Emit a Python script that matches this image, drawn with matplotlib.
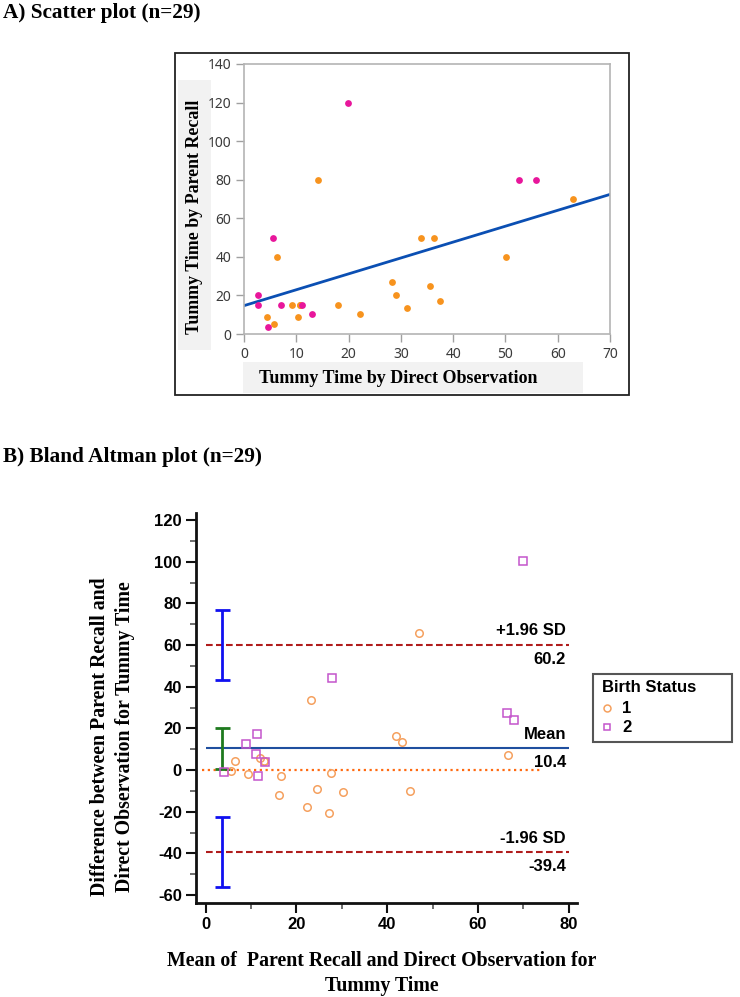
import matplotlib
matplotlib.use('Agg')
import matplotlib.pyplot as plt
from matplotlib.patches import Rectangle
from matplotlib.lines import Line2D
from matplotlib.ticker import MultipleLocator
import numpy as np

plt.rcParams['axes.unicode_minus'] = False

W, H = 740, 997

# ---------------- Panel A data (scatter) ----------------
# Birth status 1 (orange)
obs_g1 = [14.1, 6.25, 4.46, 5.8, 9.1, 10.7, 10.7, 10.26, 18.0, 22.1, 28.4, 29.1,
          31.2, 33.8, 36.3, 35.6, 37.4, 50.2, 63.0]
rec_g1 = [80, 40, 8.6, 5.4, 15, 15, 15, 8.6, 15, 10.2, 27, 20,
          13.6, 50, 50, 25, 17, 40, 70.2]
# Birth status 2 (magenta)
obs_g2 = [19.8, 2.68, 2.68, 5.6, 4.6, 7.07, 11.15, 13.0, 52.6, 55.8]
rec_g2 = [120, 20, 15, 50, 3.5, 15, 15, 10.2, 80, 80]
fit_intercept = 14.7
fit_slope = 0.824
scatter_xticks = [0, 10, 20, 30, 40, 50, 60, 70]
scatter_yticks = [0, 20, 40, 60, 80, 100, 120, 140]

# ---------------- Panel B data (Bland-Altman) ----------------
ba_lines = [60.2, 10.4, -39.4]
ba_line_names = ["+1.96 SD", "Mean", "-1.96 SD"]
ci_upper = [43.4, 76.8]
ci_mean = [0.6, 20.0]
ci_lower = [-56.2, -22.7]
ci_x = 3.6
ba_xticks = [0, 20, 40, 60, 80]
ba_yticks = [-60, -40, -20, 0, 20, 40, 60, 80, 100, 120]
legend_labels = ["1", "2"]

C1_FILL = '#f7931e'
C2_FILL = '#e8169b'
C1_EDGE = '#f5a05e'
C2_EDGE = '#c455cc'


def fig_rect(x0, y0, x1, y1):
    return [x0 / W, 1 - y1 / H, (x1 - x0) / W, (y1 - y0) / H]


def fx(px):
    return px / W


def fy(py):
    return 1 - py / H


SERIF = 'Liberation Serif'
SANS = 'Liberation Sans'

fig = plt.figure(figsize=(W / 100, H / 100), dpi=100)

# ---------- Titles ----------
fig.text(fx(3), fy(13), "A) Scatter plot (n=29)", family=SERIF,
         weight='bold', fontsize=15.3, va='center', ha='left')
fig.text(fx(3), fy(457), "B) Bland Altman plot (n=29)", family=SERIF,
         weight='bold', fontsize=15.3, va='center', ha='left')

# ---------- Panel A decorations ----------
fig.patches.append(Rectangle((fx(175), fy(395)), (629 - 175) / W, (395 - 53) / H,
                             transform=fig.transFigure, fill=False,
                             edgecolor='#222222', linewidth=1.3, zorder=-1))
fig.patches.append(Rectangle((fx(178), fy(350)), (211 - 178) / W, (350 - 80) / H,
                             transform=fig.transFigure, facecolor='#f2f2f2',
                             edgecolor='none', zorder=-1))
fig.patches.append(Rectangle((fx(243), fy(393)), (583 - 243) / W, (393 - 362) / H,
                             transform=fig.transFigure, facecolor='#f2f2f2',
                             edgecolor='none', zorder=-1))
fig.text(fx(195), fy(217), "Tummy Time by Parent Recall", family=SERIF,
         weight='bold', fontsize=12.9, rotation=90, va='center', ha='center')
fig.text(fx(398), fy(378), "Tummy Time by Direct Observation", family=SERIF,
         weight='bold', fontsize=13, va='center', ha='center')

ax1 = fig.add_axes(fig_rect(244, 64, 610, 334))
ax1.set_xlim(0, 70)
ax1.set_ylim(0, 140)
ax1.set_xticks(scatter_xticks)
ax1.set_yticks(scatter_yticks)
for s in ax1.spines.values():
    s.set_color('#b4b4b4')
    s.set_linewidth(1.2)
ax1.tick_params(direction='out', length=6, width=1, color='#a0a0a0',
                labelcolor='#3a3a3a', labelsize=10, pad=3)
for lab in ax1.get_xticklabels() + ax1.get_yticklabels():
    lab.set_family('Noto Sans')
ax1.scatter(obs_g1, rec_g1, s=24, color=C1_FILL, zorder=3, linewidths=0)
ax1.scatter(obs_g2, rec_g2, s=24, color=C2_FILL, zorder=3, linewidths=0)
xfit = np.array([0, 70])
ax1.plot(xfit, fit_intercept + fit_slope * xfit, color='#0b4fb3', lw=2.0, zorder=2)

# ---------- Panel B ----------
o1, r1 = np.array(obs_g1), np.array(rec_g1)
o2, r2 = np.array(obs_g2), np.array(rec_g2)
m1, d1 = (o1 + r1) / 2, r1 - o1
m2, d2 = (o2 + r2) / 2, r2 - o2

ax2 = fig.add_axes(fig_rect(195.7, 512.7, 577, 903))
ax2.set_xlim(-2.2, 81.8)
ax2.set_ylim(-63.8, 123.5)
ax2.spines['top'].set_visible(False)
ax2.spines['right'].set_visible(False)
for side in ['left', 'bottom']:
    ax2.spines[side].set_linewidth(2)
    ax2.spines[side].set_color('#111111')
ax2.set_xticks(ba_xticks)
ax2.set_yticks(ba_yticks)
ax2.xaxis.set_minor_locator(MultipleLocator(10))
ax2.yaxis.set_minor_locator(MultipleLocator(10))
ax2.tick_params(which='major', direction='out', length=7, width=1.5, color='#111111',
                labelsize=12, pad=3)
ax2.tick_params(which='minor', direction='out', length=4, width=1.2, color='#555555')
for lab in ax2.get_xticklabels() + ax2.get_yticklabels():
    lab.set_family(SANS)
    lab.set_weight('bold')

# horizontal reference lines
ax2.hlines(0, -0.9, 74, colors='#ff6a10', linestyles=(0, (1, 1.6)), lw=1.6, zorder=2)
ax2.hlines(ba_lines[0], 0, 80, colors='#b01c1c', linestyles=(0, (3.2, 1.6)), lw=1.5, zorder=2)
ax2.hlines(ba_lines[2], 0, 80, colors='#b01c1c', linestyles=(0, (3.2, 1.6)), lw=1.5, zorder=2)
ax2.hlines(ba_lines[1], 0, 80, colors='#1f4f9f', lw=1.5, zorder=2)

# annotations
for val, name in zip(ba_lines, ba_line_names):
    ax2.annotate(name, (79.4, val), xytext=(0, 4.5), textcoords='offset points',
                 ha='right', va='bottom', family=SANS, weight='bold', fontsize=12)
    ax2.annotate(f"{val:.1f}", (79.4, val), xytext=(0, -5), textcoords='offset points',
                 ha='right', va='top', family=SANS, weight='bold', fontsize=12)

# confidence interval bars
for ci, col in [(ci_upper, '#1010f0'), (ci_lower, '#1010f0'), (ci_mean, '#1e7a1e')]:
    mid = (ci[0] + ci[1]) / 2
    ax2.errorbar([ci_x], [mid], yerr=[[mid - ci[0]], [ci[1] - mid]], fmt='none',
                 ecolor=col, elinewidth=2, capsize=5.4, capthick=2, zorder=3)

ax2.plot(m1, d1, 'o', ms=5.4, mfc='none', mec=C1_EDGE, mew=1.1, zorder=4)
ax2.plot(m2, d2, 's', ms=5.4, mfc='none', mec=C2_EDGE, mew=1.1, zorder=4)

fig.text(fx(100), fy(737), "Difference between Parent Recall and", family=SERIF,
         weight='bold', fontsize=14.3, rotation=90, va='center', ha='center')
fig.text(fx(125), fy(737), "Direct Observation for Tummy Time", family=SERIF,
         weight='bold', fontsize=14.3, rotation=90, va='center', ha='center')
fig.text(fx(382), fy(961), "Mean of  Parent Recall and Direct Observation for",
         family=SERIF, weight='bold', fontsize=14.3, va='center', ha='center')
fig.text(fx(382), fy(986), "Tummy Time", family=SERIF, weight='bold',
         fontsize=14.3, va='center', ha='center')

# legend (drawn as a framed box)
fig.patches.append(Rectangle((fx(593), fy(742)), (732 - 593) / W, (742 - 674) / H,
                             transform=fig.transFigure, facecolor='white',
                             edgecolor='#555555', linewidth=1.5))
fig.text(fx(602), fy(688), "Birth Status", family=SANS, weight='bold',
         fontsize=12, va='center', ha='left')
for lbl, mk, col, py in [(legend_labels[0], 'o', C1_EDGE, 708),
                         (legend_labels[1], 's', C2_EDGE, 727)]:
    fig.add_artist(Line2D([fx(607)], [fy(py)], marker=mk, ms=5, mfc='none',
                          mec=col, mew=1.1, transform=fig.transFigure))
    fig.text(fx(622), fy(py), lbl, family=SANS, weight='bold', fontsize=12,
             va='center', ha='left')

fig.savefig('out.png', dpi=100)
